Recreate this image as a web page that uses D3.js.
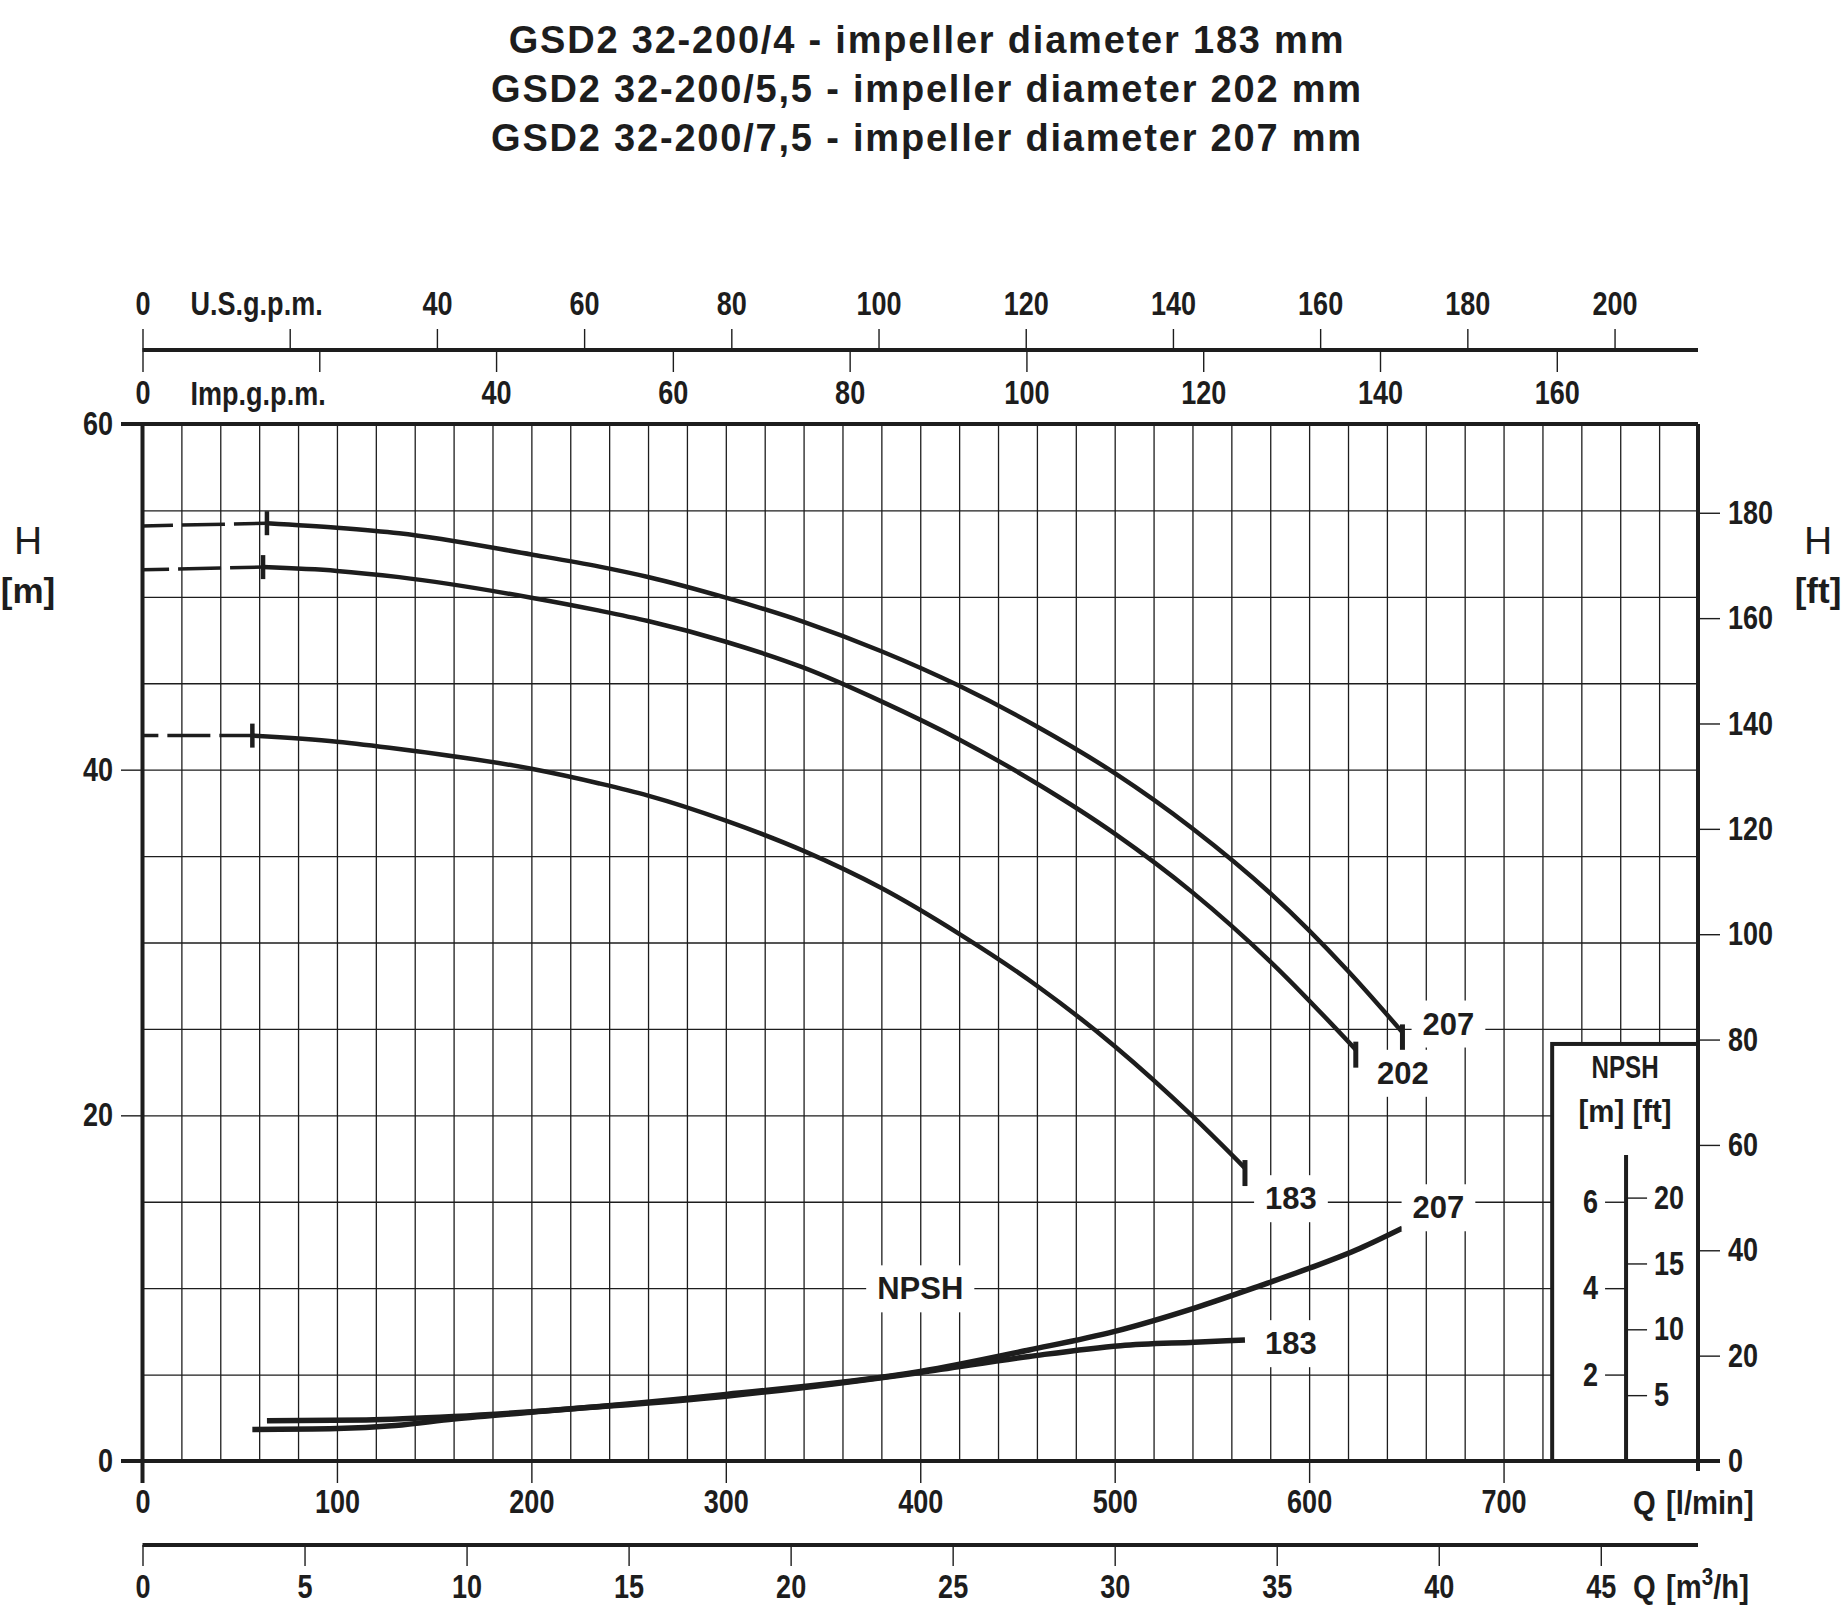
<!DOCTYPE html>
<html>
<head>
<meta charset="utf-8">
<script src="https://cdn.jsdelivr.net/npm/d3@7"></script>
<style>
	body { margin: 0; background: #fff; }
	svg { display: block; background: #fff; }
	text { font-family: 'Liberation Sans', Arial, Helvetica, sans-serif; }
</style>
</head>
<body>
<svg id="chart" width="1846" height="1619"></svg>
<script>
// title lines
var titleLines = [
	'GSD2 32-200/4 - impeller diameter 183 mm',
	'GSD2 32-200/5,5 - impeller diameter 202 mm',
	'GSD2 32-200/7,5 - impeller diameter 207 mm'
];

// Q-H curves, Q in l/min, H in m
var qFlow207 = [64, 100, 132, 200, 235, 260, 300, 340, 380, 420, 460, 500, 540, 580, 620, 648];
var head207 = [54.26, 54.0, 53.68, 52.45, 51.75, 51.15, 49.95, 48.55, 46.85, 44.85, 42.5, 39.8, 36.6, 32.85, 28.35, 24.8];
var qFlow202 = [62, 100, 132, 200, 235, 260, 300, 340, 380, 420, 460, 500, 540, 580, 624];
var head202 = [51.72, 51.5, 51.14, 49.95, 49.2, 48.6, 47.4, 45.9, 43.95, 41.75, 39.2, 36.3, 32.9, 28.9, 23.8];
var qFlow183 = [56.5, 100, 132, 200, 235, 260, 300, 340, 380, 420, 460, 500, 540, 567];
var head183 = [41.97, 41.62, 41.2, 40.05, 39.2, 38.5, 37.05, 35.3, 33.15, 30.5, 27.5, 24.0, 19.95, 16.95];

// head at zero flow (dashed part)
var shutoffHead = { '207': 54.1, '202': 51.56, '183': 41.97 };

// NPSH curves, NPSH in m
var qNpsh207 = [64, 115, 160, 200, 300, 400, 456, 500, 541, 575, 600, 626, 648];
var npsh207 = [0.93, 0.95, 1.03, 1.14, 1.54, 2.07, 2.57, 3.0, 3.54, 4.06, 4.46, 4.92, 5.39];
var qNpsh183 = [56.5, 100, 130, 160, 200, 300, 400, 456, 503, 541, 567];
var npsh183 = [0.73, 0.75, 0.82, 0.97, 1.13, 1.5, 2.05, 2.42, 2.67, 2.75, 2.8];

// tick values
var ticksLmin = [0, 100, 200, 300, 400, 500, 600, 700];
var ticksM3h = [0, 5, 10, 15, 20, 25, 30, 35, 40, 45];
var ticksUs = [0, 20, 40, 60, 80, 100, 120, 140, 160, 180, 200];
var ticksImp = [0, 20, 40, 60, 80, 100, 120, 140, 160];
var ticksHm = [0, 20, 40, 60];
var ticksHft = [0, 20, 40, 60, 80, 100, 120, 140, 160, 180];
var ticksNpshM = [2, 4, 6];
var ticksNpshFt = [5, 10, 15, 20];

var ink = '#1d1d1d';
var svg = d3.select('#chart');

var x = d3.scaleLinear().domain([0, 800]).range([142.5, 1698]);
var y = d3.scaleLinear().domain([0, 60]).range([1461, 424]);
var yFt = d3.scaleLinear().domain([0, 60 / 0.3048]).range(y.range());
var yNpsh = d3.scaleLinear().domain([0, 24]).range(y.range());
var yNpshFt = d3.scaleLinear().domain([0, 24 / 0.3048]).range(y.range());
var xUs = d3.scaleLinear().domain([0, 800 / 3.785411784]).range(x.range());
var xImp = d3.scaleLinear().domain([0, 800 / 4.54609]).range(x.range());
var xM3h = d3.scaleLinear().domain([0, 48]).range(x.range());

var x0 = x(0), x1 = x(800), y0 = y(0), y1 = y(60);

function condensed(sel, size, sx) {
	sel.style('font-size', size + 'px')
		.style('font-weight', 'bold')
		.attr('fill', ink)
		.each(function(){
			var t = d3.select(this);
			var tx = +t.attr('x') || 0;
			t.attr('x', tx / sx).attr('transform', 'scale(' + sx + ',1)');
		});
	return sel;
}

function styleAxis(g, size, sx) {
	g.select('.domain').remove();
	g.selectAll('.tick line').attr('stroke', ink).attr('stroke-width', 1.4);
	condensed(g.selectAll('.tick text'), size, sx);
}

// title
svg.append('g').selectAll('text')
	.data(titleLines)
	.join('text')
		.attr('x', 927)
		.attr('y', function(d, i){ return 53 + i * 49; })
		.attr('text-anchor', 'middle')
		.attr('fill', ink)
		.style('font-size', '38px')
		.style('font-weight', 'bold')
		.style('letter-spacing', '1.8px')
		.text(function(d){ return d; });

// grid
var gridV = svg.append('g')
	.attr('transform', 'translate(0,' + y0 + ')')
	.call(d3.axisBottom(x).tickValues(d3.range(20, 800, 20)).tickSize(y1 - y0).tickFormat(''));
gridV.select('.domain').remove();
gridV.selectAll('.tick line').attr('stroke', ink).attr('stroke-width', 1.3);

var gridH = svg.append('g')
	.attr('transform', 'translate(' + x0 + ',0)')
	.call(d3.axisLeft(y).tickValues(d3.range(5, 60, 5)).tickSize(x0 - x1).tickFormat(''));
gridH.select('.domain').remove();
gridH.selectAll('.tick line').attr('stroke', ink).attr('stroke-width', 1.3);

// axes
var axisQ = svg.append('g')
	.attr('transform', 'translate(0,' + y0 + ')')
	.call(d3.axisBottom(x).tickValues(ticksLmin).tickSize(22).tickPadding(7));
styleAxis(axisQ, 33, 0.82);

var axisM3h = svg.append('g')
	.attr('transform', 'translate(0,1545)')
	.call(d3.axisBottom(xM3h).tickValues(ticksM3h).tickSize(21).tickPadding(9));
styleAxis(axisM3h, 33, 0.82);

var axisUs = svg.append('g')
	.attr('transform', 'translate(0,350)')
	.call(d3.axisTop(xUs).tickValues(ticksUs).tickSize(21).tickPadding(14)
		.tickFormat(function(d){ return d == 20 ? '' : d; }));
styleAxis(axisUs, 33, 0.82);

var axisImp = svg.append('g')
	.attr('transform', 'translate(0,350)')
	.call(d3.axisBottom(xImp).tickValues(ticksImp).tickSize(22).tickPadding(9)
		.tickFormat(function(d){ return d == 20 ? '' : d; }));
styleAxis(axisImp, 33, 0.82);

var axisH = svg.append('g')
	.attr('transform', 'translate(' + x0 + ',0)')
	.call(d3.axisLeft(y).tickValues(ticksHm).tickSize(21.5).tickPadding(8));
styleAxis(axisH, 33, 0.82);

var axisFt = svg.append('g')
	.attr('transform', 'translate(' + x1 + ',0)')
	.call(d3.axisRight(yFt).tickValues(ticksHft).tickSize(22).tickPadding(8));
styleAxis(axisFt, 33, 0.82);

// axis lines
var frame = svg.append('g').attr('stroke', ink).attr('stroke-width', 4);
frame.append('line').attr('x1', x0 - 21.5).attr('x2', x1).attr('y1', y1).attr('y2', y1);
frame.append('line').attr('x1', x0 - 21.5).attr('x2', x1 + 22).attr('y1', y0).attr('y2', y0);
frame.append('line').attr('x1', x0).attr('x2', x0).attr('y1', y1).attr('y2', y0 + 22);
frame.append('line').attr('x1', x1).attr('x2', x1).attr('y1', y1).attr('y2', y0 + 10);
frame.append('line').attr('x1', x0).attr('x2', x1).attr('y1', 350).attr('y2', 350);
frame.append('line').attr('x1', x0).attr('x2', x1).attr('y1', 1545).attr('y2', 1545);

// unit texts
condensed(svg.append('text').attr('x', x0 + 48).attr('y', 315).text('U.S.g.p.m.'), 33, 0.82);
condensed(svg.append('text').attr('x', x0 + 48).attr('y', 405).text('Imp.g.p.m.'), 33, 0.82);

var qL = svg.append('text').attr('x', 1633).attr('y', 1514);
qL.append('tspan').text('Q');
qL.append('tspan').attr('dx', 12).text('[l/min]');
condensed(qL, 34, 0.86);

var qM = svg.append('text').attr('x', 1633).attr('y', 1598);
qM.append('tspan').text('Q');
qM.append('tspan').attr('dx', 12).text('[m');
qM.append('tspan').attr('dy', -13).style('font-size', '24px').text('3');
qM.append('tspan').attr('dy', 13).text('/h]');
condensed(qM, 34, 0.86);

svg.append('text').attr('x', 28).attr('y', 554).attr('text-anchor', 'middle')
	.attr('fill', ink).style('font-size', '39px').text('H');
svg.append('text').attr('x', 28).attr('y', 603).attr('text-anchor', 'middle')
	.attr('fill', ink).style('font-size', '35px').style('font-weight', 'bold').text('[m]');
svg.append('text').attr('x', 1818).attr('y', 554).attr('text-anchor', 'middle')
	.attr('fill', ink).style('font-size', '39px').text('H');
svg.append('text').attr('x', 1818).attr('y', 603).attr('text-anchor', 'middle')
	.attr('fill', ink).style('font-size', '35px').style('font-weight', 'bold').text('[ft]');

// NPSH box
var boxLeft = x(725), boxTop = y(24.13), scaleX = x(763);
svg.append('rect')
	.attr('x', boxLeft).attr('y', boxTop)
	.attr('width', x1 - boxLeft).attr('height', y0 - boxTop)
	.attr('fill', '#fff').attr('stroke', ink).attr('stroke-width', 4);
svg.append('line')
	.attr('x1', scaleX).attr('x2', scaleX).attr('y1', y(17.7)).attr('y2', y0)
	.attr('stroke', ink).attr('stroke-width', 4);
condensed(svg.append('text').attr('x', (boxLeft + x1) / 2).attr('y', boxTop + 34)
	.attr('text-anchor', 'middle').text('NPSH'), 31, 0.78);
condensed(svg.append('text').attr('x', (boxLeft + x1) / 2).attr('y', boxTop + 78)
	.attr('text-anchor', 'middle').text('[m] [ft]'), 32, 0.92);

var axisNm = svg.append('g')
	.attr('transform', 'translate(' + scaleX + ',0)')
	.call(d3.axisLeft(yNpsh).tickValues(ticksNpshM).tickSize(21).tickPadding(7));
styleAxis(axisNm, 33, 0.82);
var axisNft = svg.append('g')
	.attr('transform', 'translate(' + scaleX + ',0)')
	.call(d3.axisRight(yNpshFt).tickValues(ticksNpshFt).tickSize(21).tickPadding(7));
styleAxis(axisNft, 33, 0.82);

// curves
var headCurves = [
	{ name: '207', q: qFlow207, h: head207, dx: 46, dy: -9 },
	{ name: '202', q: qFlow202, h: head202, dx: 47, dy: 23 },
	{ name: '183', q: qFlow183, h: head183, dx: 46, dy: 30 }
];
var npshCurves = [
	{ name: '207', q: qNpsh207, h: npsh207, dx: 36, dy: -21 },
	{ name: '183', q: qNpsh183, h: npsh183, dx: 46, dy: 3 }
];

var headLine = d3.line()
	.x(function(d){ return x(d[0]); })
	.y(function(d){ return y(d[1]); })
	.curve(d3.curveMonotoneX);
var npshLine = d3.line()
	.x(function(d){ return x(d[0]); })
	.y(function(d){ return yNpsh(d[1]); })
	.curve(d3.curveMonotoneX);

var labels = [];

headCurves.forEach(function(c){
	var pts = d3.zip(c.q, c.h);
	var first = pts[0], last = pts[pts.length - 1];
	svg.append('path')
		.attr('d', headLine(pts))
		.attr('fill', 'none').attr('stroke', ink).attr('stroke-width', 4.5);
	// dashed start
	svg.append('line')
		.attr('x1', x(first[0])).attr('y1', y(first[1]))
		.attr('x2', x(0)).attr('y2', y(shutoffHead[c.name]))
		.attr('stroke', ink).attr('stroke-width', 3.5)
		.attr('stroke-dasharray', '33,9,43,9');
	// start / end marks
	svg.append('line')
		.attr('x1', x(first[0])).attr('x2', x(first[0]))
		.attr('y1', y(first[1]) - 12).attr('y2', y(first[1]) + 12)
		.attr('stroke', ink).attr('stroke-width', 4.5);
	svg.append('line')
		.attr('x1', x(last[0])).attr('x2', x(last[0]))
		.attr('y1', y(last[1]) - 8).attr('y2', y(last[1]) + 18)
		.attr('stroke', ink).attr('stroke-width', 5);
	labels.push({ text: c.name, x: x(last[0]) + c.dx, y: y(last[1]) + c.dy });
});

npshCurves.forEach(function(c){
	var pts = d3.zip(c.q, c.h);
	var last = pts[pts.length - 1];
	svg.append('path')
		.attr('d', npshLine(pts))
		.attr('fill', 'none').attr('stroke', ink).attr('stroke-width', 5.5);
	labels.push({ text: c.name, x: x(last[0]) + c.dx, y: yNpsh(last[1]) + c.dy });
});

labels.push({ text: 'NPSH', x: x(400), y: y(10) });

// labels with white boxes over the grid
var lg = svg.append('g');
labels.forEach(function(l){
	var g = lg.append('g');
	var t = g.append('text')
		.attr('x', l.x).attr('y', l.y).attr('dy', '0.36em')
		.attr('text-anchor', 'middle')
		.attr('fill', ink)
		.style('font-size', '31px')
		.style('font-weight', 'bold')
		.text(l.text);
	var b = t.node().getBBox();
	g.insert('rect', 'text')
		.attr('x', b.x - 11).attr('y', b.y - 6)
		.attr('width', b.width + 22).attr('height', b.height + 12)
		.attr('fill', '#fff');
});
</script>
</body>
</html>
